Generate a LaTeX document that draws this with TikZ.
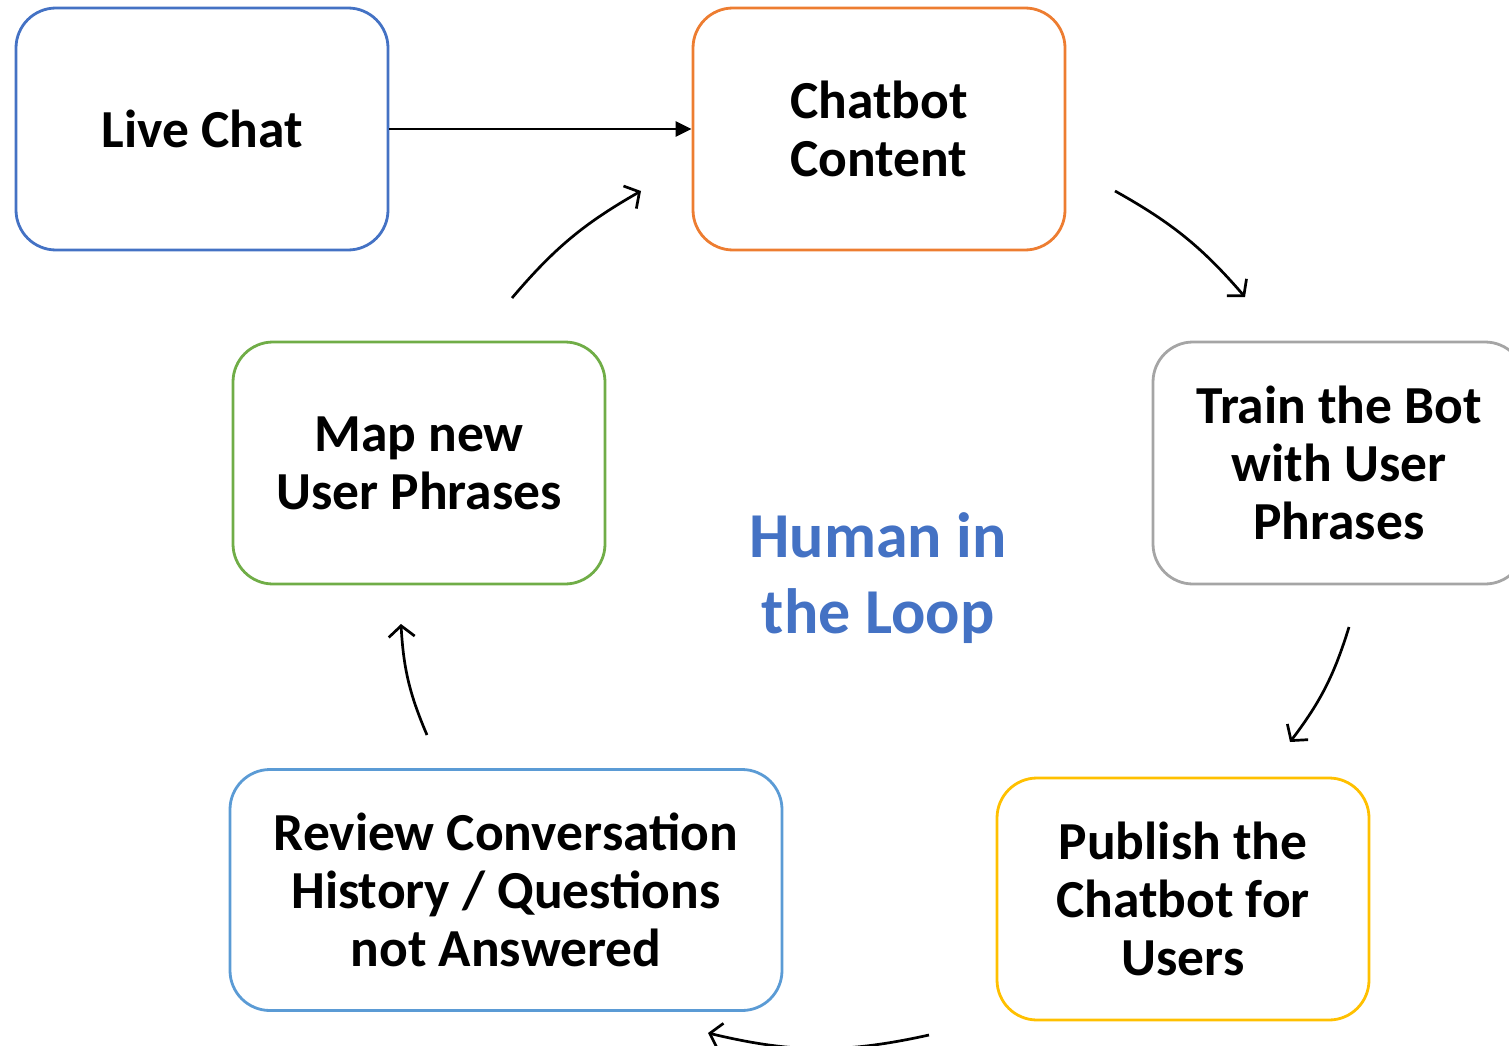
\documentclass[tikz,border=0pt]{standalone}
\usepackage{fontspec}
\setmainfont{Carlito}
\usetikzlibrary{arrows.meta}
\definecolor{cblue}{HTML}{4472C4}
\definecolor{corange}{HTML}{ED7D31}
\definecolor{cgray}{HTML}{A5A5A5}
\definecolor{cgold}{HTML}{FFC000}
\definecolor{clblue}{HTML}{5B9BD5}
\definecolor{cgreen}{HTML}{70AD47}
\begin{document}
\begin{tikzpicture}[x=1pt,y=-1pt,
  box/.style={draw, line width=2.8pt, rounded corners=40pt, minimum width=372pt, minimum height=242pt, align=center, inner sep=0pt, font=\fontsize{53.5}{58}\selectfont\bfseries},
  loop/.style={line width=2.7pt, -{Straight Barb[length=11pt,width=26pt,line width=2.7pt]}}]
\useasboundingbox (0,0) rectangle (1509,1046);
\clip (0,0) rectangle (1509,1046);
\node[box, draw=cblue] (live) at (202,129) {Live Chat};
\node[box, draw=corange] (chat) at (879,129) {Chatbot\\Content};
\node[box, draw=cgray] (train) at (1339,463) {Train the Bot\\with User\\Phrases};
\node[box, draw=cgold] (pub) at (1183,899) {Publish the\\Chatbot for\\Users};
\node[box, draw=clblue, minimum width=552pt, minimum height=241pt] (rev) at (506,890) {Review Conversation\\History / Questions\\not Answered};
\node[box, draw=cgreen] (map) at (419,463) {Map new\\User Phrases};
\node[text=cblue, align=center, inner sep=0pt, font=\fontsize{64}{76}\selectfont\bfseries] (loopt) at (878,578) {Human in\\the Loop};
\coordinate (m1) at (512,298); \coordinate (c1) at (641,191);
\coordinate (c2) at (1115,191); \coordinate (t1) at (1245,297);
\coordinate (t2) at (1349,627); \coordinate (p1) at (1290,742);
\coordinate (p2) at (929,1035); \coordinate (r1) at (708,1033);
\coordinate (r2) at (427,735); \coordinate (m2) at (401,624);
\draw[line width=2.4pt, -{Triangle[length=16pt,width=15pt]}] (live.east) -- (chat.west);
\draw[loop] (m1) to[bend left=10] (c1);
\draw[loop] (c2) to[bend left=10] (t1);
\draw[loop] (t2) to[bend left=10] (p1);
\draw[loop] (p2) to[bend left=13] (r1);
\draw[loop] (r2) to[bend left=10] (m2);
\end{tikzpicture}
\end{document}
